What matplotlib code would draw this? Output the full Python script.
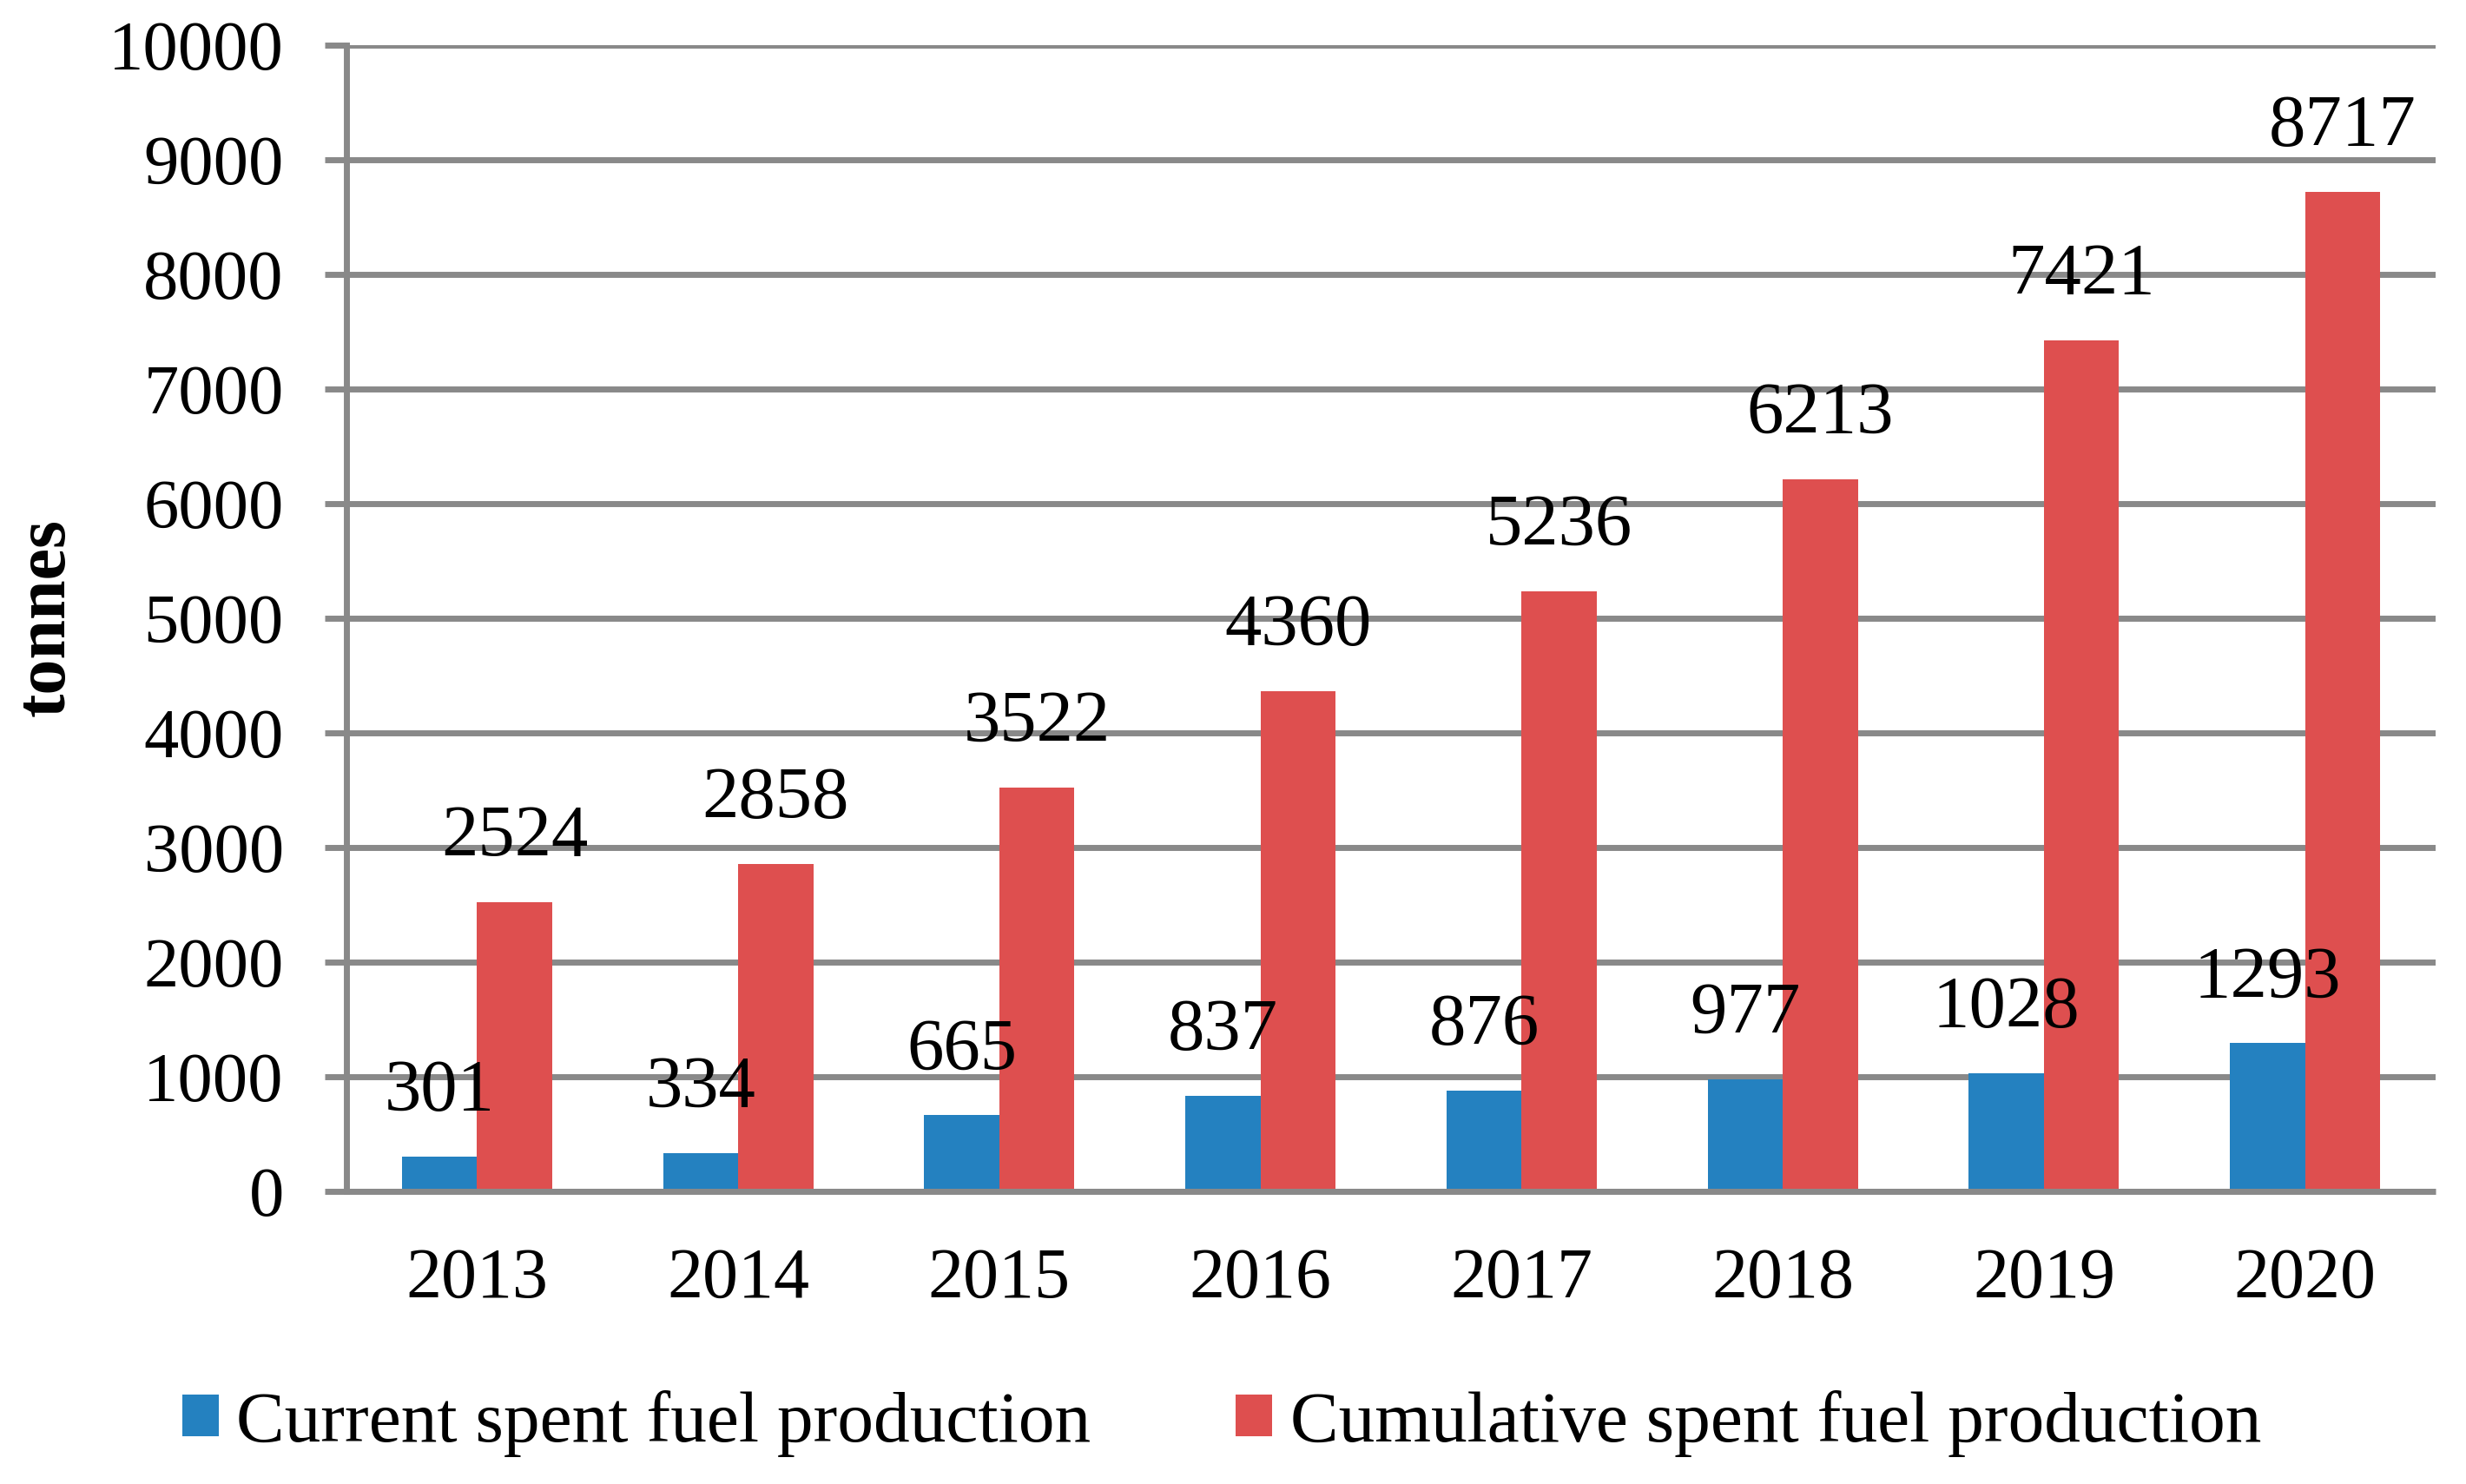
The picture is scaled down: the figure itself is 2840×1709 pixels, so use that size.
import matplotlib
matplotlib.use("Agg")
import matplotlib.pyplot as plt
import numpy as np

years = ["2013", "2014", "2015", "2016", "2017", "2018", "2019", "2020"]
current = [301, 334, 665, 837, 876, 977, 1028, 1293]
cumulative = [2524, 2858, 3522, 4360, 5236, 6213, 7421, 8717]
series_names = ["Current spent fuel production", "Cumulative spent fuel production"]
yticks = [0, 1000, 2000, 3000, 4000, 5000, 6000, 7000, 8000, 9000, 10000]

blue = "#2481C0"
red = "#DE4F4F"
gray = "#898989"
FS = 58
FS_X = 59
FS_LAB = 61
FS_LEG = 60

plt.rcParams["font.family"] = ["Liberation Serif", "DejaVu Serif"]

fig = plt.figure(figsize=(28.4, 17.09), dpi=100)
ax = fig.add_axes([399 / 2840, 1 - 1372 / 1709, (2805 - 399) / 2840, (1372 - 52) / 1709])

x = np.arange(len(years))
w = 0.288
b1 = ax.bar(x - w / 2, current, w, color=blue, label=series_names[0], zorder=3)
b2 = ax.bar(x + w / 2, cumulative, w, color=red, label=series_names[1], zorder=3)

for bars, vals in ((b1, current), (b2, cumulative)):
    for rect, v in zip(bars, vals):
        ax.annotate(str(v), (rect.get_x() + rect.get_width() / 2, v),
                    xytext=(0, 53), textcoords="offset pixels",
                    ha="center", va="baseline", fontsize=FS_LAB, zorder=5)

ax.set_xlim(-0.5, len(years) - 0.5)
ax.set_ylim(0, 10000)
ax.set_yticks(yticks)
ax.set_yticklabels([str(t) for t in yticks], fontsize=FS)
ax.set_xticks(x)
ax.set_xticklabels(years, fontsize=FS_X)

ax.yaxis.grid(True, color=gray, linewidth=5, zorder=0)
ax.set_axisbelow(True)
for s in ("top", "right"):
    ax.spines[s].set_visible(False)
for s in ("left", "bottom"):
    ax.spines[s].set_color(gray)
    ax.spines[s].set_linewidth(5)
    ax.spines[s].set_zorder(4)
ax.spines["bottom"].set_capstyle("butt")

ax.tick_params(axis="y", length=18, width=5, color=gray, pad=34)
ax.tick_params(axis="x", length=0, pad=46)

fig.text(54 / 2840, 1 - 711 / 1709, "tonnes", rotation=90, fontsize=FS + 1,
         fontweight="bold", ha="center", va="center")

fig.legend(loc="center left", bbox_to_anchor=(210 / 2840, 1 - 1639 / 1709),
           ncol=2, frameon=False, fontsize=FS_LEG, handlelength=0.5, handleheight=0.5,
           handletextpad=0.25, columnspacing=2.0, borderpad=0, borderaxespad=0)

fig.savefig("out.png", dpi=100)
